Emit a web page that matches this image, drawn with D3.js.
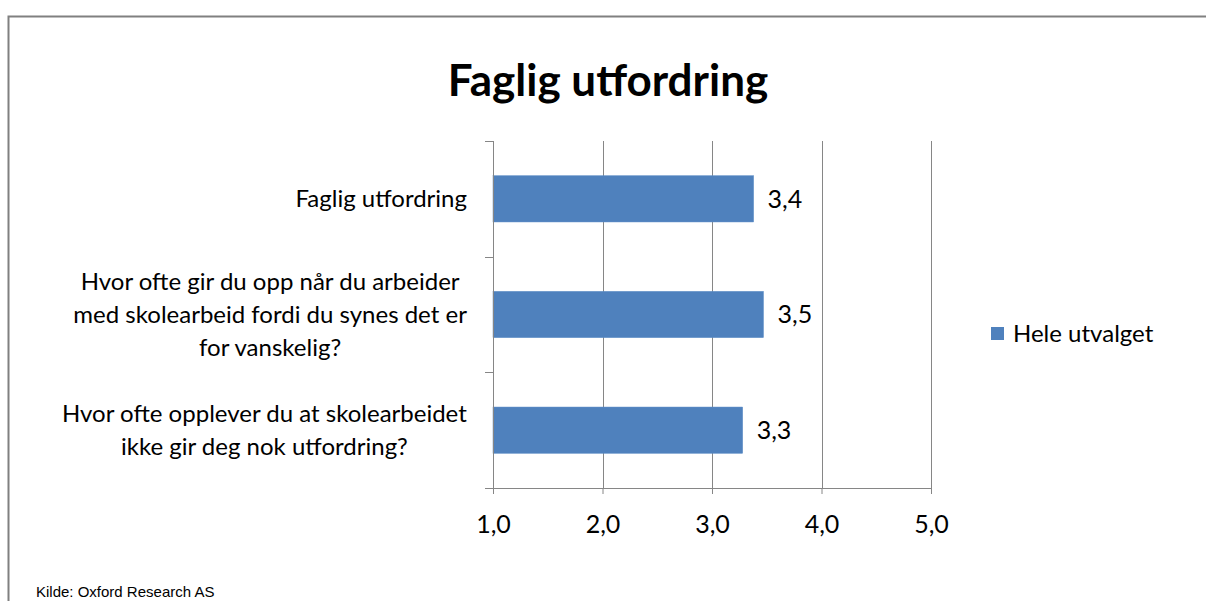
<!DOCTYPE html>
<html>
<head>
<meta charset="utf-8">
<script src="https://cdn.jsdelivr.net/npm/d3@7"></script>
<style>
  body { margin:0; background:#fff; }
  svg { display:block; }
</style>
</head>
<body>
<div id="canvas"></div>
<script>
// data
var categories = [
  'Faglig utfordring',
  'Hvor ofte gir du opp når du arbeider|med skolearbeid fordi du synes det er|for vanskelig?',
  'Hvor ofte opplever du at skolearbeidet|ikke gir deg nok utfordring?'
];
var values = [3.38, 3.47, 3.28];
var valueLabels = ['3,4', '3,5', '3,3'];
var tickValues = [1, 2, 3, 4, 5];
var seriesName = 'Hele utvalget';

var W = 1206, H = 601;
var m = {t:141, l:493, r:275, b:113};
var w = W - m.l - m.r,
    h = H - m.t - m.b;
var font = 'Lato, "Open Sans", sans-serif';
var grey = '#868686';

var svg = d3.select('#canvas')
    .append('svg')
    .attr('width', W)
    .attr('height', H);

// frame
svg.append('path')
    .attr('d', 'M8.5,' + H + 'V16.5H' + W)
    .attr('fill', 'none')
    .attr('stroke', '#808080')
    .attr('stroke-width', 2);

svg.append('text')
    .attr('x', 608).attr('y', 96)
    .attr('text-anchor', 'middle')
    .style('font-family', font)
    .style('font-weight', 'bold')
    .style('font-size', '44px')
    .attr('fill', '#000')
    .text('Faglig utfordring');

var plot = svg.append('g')
    .attr('transform', 'translate(' + m.l + ',' + m.t + ')');

var x = d3.scaleLinear().domain([1, 5]).range([0, w]);
var y = d3.scaleBand().domain(categories).range([0, h])
    .paddingInner(0.6).paddingOuter(0.3);

// gridlines
plot.selectAll('.grid')
    .data(tickValues.slice(1))
  .enter().append('line')
    .attr('x1', function(d){ return Math.round(x(d)) + 0.5; })
    .attr('x2', function(d){ return Math.round(x(d)) + 0.5; })
    .attr('y1', 0).attr('y2', h)
    .attr('stroke', grey);

// bars
plot.selectAll('.bar')
    .data(values)
  .enter().append('rect')
    .attr('x', x(1))
    .attr('y', function(d, i){ return y(categories[i]); })
    .attr('width', function(d){ return x(d) - x(1); })
    .attr('height', y.bandwidth())
    .attr('fill', '#4F81BD')
    .attr('stroke', '#5b8cc6')
    .attr('stroke-width', 0.5);

plot.selectAll('.val')
    .data(values)
  .enter().append('text')
    .attr('x', function(d){ return x(d) + 14; })
    .attr('y', function(d, i){ return y(categories[i]) + y.bandwidth() / 2; })
    .attr('dy', '0.35em')
    .style('font-family', font)
    .style('font-size', '25px')
    .attr('fill', '#000')
    .text(function(d, i){ return valueLabels[i]; });

// x axis
var xAxis = plot.append('g')
    .attr('transform', 'translate(0,' + h + ')')
    .call(d3.axisBottom(x).tickValues(tickValues).tickSize(6).tickPadding(21)
        .tickFormat(function(d){ return d3.format('.1f')(d).replace('.', ','); }));
xAxis.select('.domain').attr('stroke', grey);
xAxis.selectAll('line').attr('stroke', grey);
xAxis.selectAll('text')
    .style('font-family', font)
    .style('font-size', '25px')
    .attr('fill', '#000');

// y axis: line + tick marks between categories
plot.append('line')
    .attr('x1', 0.5).attr('x2', 0.5).attr('y1', 0).attr('y2', h)
    .attr('stroke', grey);
plot.selectAll('.ytick')
    .data(d3.range(categories.length + 1))
  .enter().append('line')
    .attr('x1', -8).attr('x2', 0)
    .attr('y1', function(i){ return Math.round(i * h / categories.length) + 0.5; })
    .attr('y2', function(i){ return Math.round(i * h / categories.length) + 0.5; })
    .attr('stroke', grey);

// category labels (multi-line, centered block, right edge at -26)
var lineH = 33;
categories.forEach(function(c){
  var lines = c.split('|');
  var g = plot.append('g');
  var t = g.append('text')
      .attr('text-anchor', 'middle')
      .style('font-family', font)
      .style('font-size', '24px')
      .attr('fill', '#000');
  var cy = y(c) + y.bandwidth() / 2;
  lines.forEach(function(l, k){
    t.append('tspan')
      .attr('x', 0)
      .attr('y', cy + (k - (lines.length - 1) / 2) * lineH)
      .attr('dy', '0.35em')
      .text(l);
  });
  var bw = t.node().getBBox().width;
  t.attr('transform', 'translate(' + (-26 - bw / 2) + ',0)');
});

// legend
var leg = svg.append('g').attr('transform', 'translate(991,327)');
leg.append('rect')
    .attr('width', 13).attr('height', 13)
    .attr('fill', '#4F81BD');
leg.append('text')
    .attr('x', 22).attr('y', 7).attr('dy', '0.35em')
    .style('font-family', font)
    .style('font-size', '24px')
    .attr('fill', '#000')
    .text(seriesName);

// source
svg.append('text')
    .attr('x', 36).attr('y', 597)
    .style('font-family', '"Liberation Sans Narrow", "Liberation Sans", Arial, sans-serif')
    .style('font-size', '15px')
    .attr('fill', '#000')
    .text('Kilde: Oxford Research AS');
</script>
</body>
</html>
